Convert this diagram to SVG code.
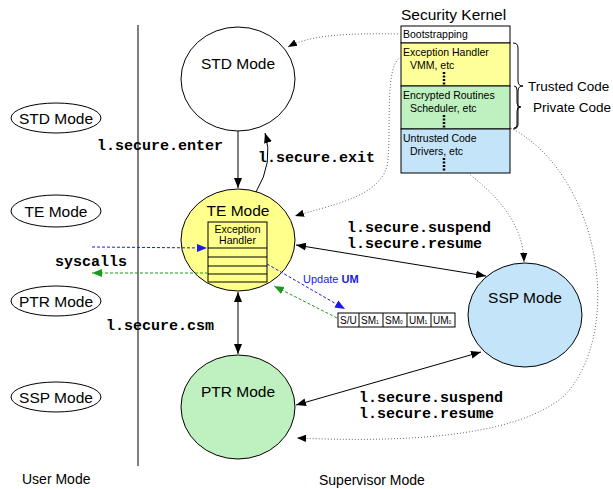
<svg xmlns="http://www.w3.org/2000/svg" width="613" height="489" viewBox="0 0 613 489">
<style>
text{font-family:"Liberation Sans",Arial,sans-serif;fill:#000}
.t{font-size:15.5px}
.s{font-size:10.5px}
.m{font-family:"Liberation Mono","Courier New",monospace;font-size:15px;font-weight:bold}
.ln{fill:none;stroke:#000;stroke-width:1}
.dot{fill:none;stroke:#666;stroke-width:1;stroke-dasharray:1 2}
.kd{stroke:#000;stroke-width:2.5;stroke-dasharray:2 1.5}
</style>
<defs>
<marker id="ab" viewBox="0 0 10 10" refX="10" refY="5" markerWidth="10" markerHeight="10" markerUnits="userSpaceOnUse" orient="auto-start-reverse"><path d="M0,1 L10,5 L0,9 z" fill="#000"/></marker>
<marker id="ad" viewBox="0 0 10 10" refX="10" refY="5" markerWidth="9" markerHeight="9" markerUnits="userSpaceOnUse" orient="auto"><path d="M0,1 L10,5 L0,9 z" fill="#000"/></marker>
<marker id="abl" viewBox="0 0 10 10" refX="10" refY="5" markerWidth="10" markerHeight="10" markerUnits="userSpaceOnUse" orient="auto"><path d="M0,1 L10,5 L0,9 z" fill="#1a1ae6"/></marker>
<marker id="agr" viewBox="0 0 10 10" refX="10" refY="5" markerWidth="10" markerHeight="10" markerUnits="userSpaceOnUse" orient="auto"><path d="M0,1 L10,5 L0,9 z" fill="#1a9a1a"/></marker>
</defs>
<rect width="613" height="489" fill="#fff"/>

<line x1="138" y1="25" x2="138" y2="466" class="ln"/>

<g id="legend-std"><ellipse cx="56" cy="118" rx="45" ry="15" class="ln"/><text x="56" y="124" class="t" text-anchor="middle">STD Mode</text></g>
<g id="legend-te"><ellipse cx="56" cy="211" rx="45" ry="16" class="ln"/><text x="56" y="217" class="t" text-anchor="middle">TE Mode</text></g>
<g id="legend-ptr"><ellipse cx="56" cy="301" rx="45" ry="15" class="ln"/><text x="56" y="307" class="t" text-anchor="middle">PTR Mode</text></g>
<g id="legend-ssp"><ellipse cx="56" cy="397" rx="45" ry="15" class="ln"/><text x="56" y="403" class="t" text-anchor="middle">SSP Mode</text></g>

<g id="std"><ellipse cx="238" cy="79" rx="57" ry="52" fill="#fff" stroke="#000"/><text x="238" y="69" class="t" text-anchor="middle">STD Mode</text></g>
<g id="te"><ellipse cx="238" cy="240" rx="57" ry="51" fill="#ffff8c" stroke="#000"/><text x="238" y="216" class="t" text-anchor="middle">TE Mode</text>
<rect x="208" y="222" width="59" height="60" fill="#ffff8c" stroke="#000"/>
<text x="237.5" y="233" class="s" text-anchor="middle">Exception</text>
<text x="237.5" y="244" class="s" text-anchor="middle">Handler</text>
<path d="M208 248H267M208 257H267M208 266H267M208 274H267" class="ln"/></g>
<g id="ptr"><ellipse cx="238" cy="407" rx="57" ry="52" fill="#bff0bf" stroke="#000"/><text x="238" y="397" class="t" text-anchor="middle">PTR Mode</text></g>
<g id="ssp"><ellipse cx="525" cy="315" rx="57" ry="52" fill="#c4e4f9" stroke="#000"/><text x="525" y="303" class="t" text-anchor="middle">SSP Mode</text></g>

<g id="kernel">
<text x="401" y="20" style="font-size:15.5px">Security Kernel</text>
<rect x="401" y="26" width="109" height="17" fill="#fff" stroke="#000"/>
<rect x="401" y="43" width="109" height="43" fill="#ffff99" stroke="#000"/>
<rect x="401" y="86" width="109" height="43" fill="#bff0bf" stroke="#000"/>
<rect x="401" y="129" width="109" height="44" fill="#c4e4f9" stroke="#000"/>
<text x="403" y="38" class="s">Bootstrapping</text>
<text x="403" y="56" class="s">Exception Handler</text>
<text x="410" y="69" class="s">VMM, etc</text>
<line x1="444" y1="72" x2="444" y2="85" class="kd"/>
<text x="403" y="99" class="s">Encrypted Routines</text>
<text x="410" y="112" class="s">Scheduler, etc</text>
<line x1="444" y1="115" x2="444" y2="128" class="kd"/>
<text x="403" y="142" class="s">Untrusted Code</text>
<text x="410" y="155" class="s">Drivers, etc</text>
<line x1="444" y1="158" x2="444" y2="171" class="kd"/>
<path d="M513 43Q518 43 518 48L518 81Q518 86 523 86Q518 86 518 91L518 124Q518 129 513 129" class="ln"/>
<path d="M514 86Q517 86 517 90L517 103Q517 107 521 107Q517 107 517 111L517 125Q517 128 514 128" class="ln"/>
<text x="528" y="91" style="font-size:13.5px">Trusted Code</text>
<text x="533" y="112" style="font-size:13.5px">Private Code</text>
</g>

<g id="register" style="font-size:10px">
<rect x="338" y="313" width="117" height="14" fill="#fff" stroke="#000"/>
<path d="M359 313V327M383 313V327M407 313V327M431 313V327" class="ln"/>
<text x="340" y="324">S/U</text>
<text x="361" y="324">SM<tspan style="font-size:5px">1</tspan></text>
<text x="385" y="324">SM<tspan style="font-size:5px">0</tspan></text>
<text x="409" y="324">UM<tspan style="font-size:5px">1</tspan></text>
<text x="433" y="324">UM<tspan style="font-size:5px">0</tspan></text>
</g>

<g id="connectors">
<line x1="238" y1="131" x2="238" y2="188" class="ln" marker-end="url(#ab)"/>
<path d="M256 192Q274 162 265 133" class="ln" marker-end="url(#ab)"/>
<line x1="296" y1="245" x2="486" y2="276" class="ln" marker-start="url(#ab)" marker-end="url(#ab)"/>
<line x1="238" y1="292" x2="238" y2="354" class="ln" marker-start="url(#ab)" marker-end="url(#ab)"/>
<line x1="296" y1="405" x2="481" y2="352" class="ln" marker-start="url(#ab)" marker-end="url(#ab)"/>
<line x1="92" y1="247" x2="207" y2="248" stroke="#1a1ae6" stroke-dasharray="3 2" marker-end="url(#abl)"/>
<line x1="208" y1="273" x2="92" y2="273" stroke="#1a9a1a" stroke-dasharray="3 2" marker-end="url(#agr)"/>
<line x1="267" y1="264" x2="345" y2="309" stroke="#1a1ae6" stroke-dasharray="3 2" marker-end="url(#abl)"/>
<line x1="337" y1="318" x2="274" y2="286" stroke="#1a9a1a" stroke-dasharray="3 2" marker-end="url(#agr)"/>
<path d="M401 34C345 33 310 35 288 47" class="dot" marker-end="url(#ad)"/>
<path d="M401 57C385 65 391 120 388 160C385 197 330 205 295 216" class="dot" marker-end="url(#ad)"/>
<path d="M468 173C500 198 523 225 524 262" class="dot" marker-end="url(#ad)"/>
<path d="M511 128C600 175 625 330 565 395C515 440 390 442 297 438" class="dot" marker-end="url(#ad)"/>
</g>

<g id="labels">
<text x="97" y="150" class="m">l.secure.enter</text>
<text x="258" y="162" class="m">l.secure.exit</text>
<text x="347" y="232" class="m">l.secure.suspend</text>
<text x="347" y="248" class="m">l.secure.resume</text>
<text x="55" y="266" class="m">syscalls</text>
<text x="106" y="330" class="m">l.secure.csm</text>
<text x="359" y="402" class="m">l.secure.suspend</text>
<text x="359" y="418" class="m">l.secure.resume</text>
<text x="303" y="283" style="font-size:11px;fill:#1a1ae6">Update <tspan style="font-weight:bold">UM</tspan></text>
<text x="22" y="484" style="font-size:14px">User Mode</text>
<text x="319" y="485" style="font-size:14px">Supervisor Mode</text>
</g>
</svg>
